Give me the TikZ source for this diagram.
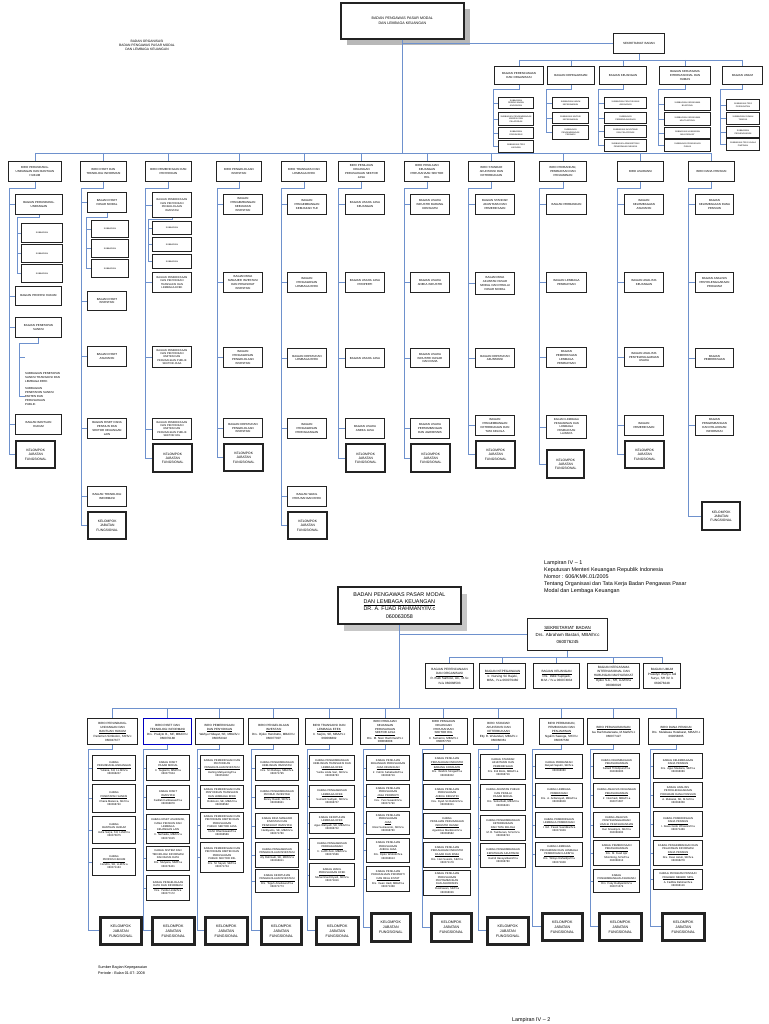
\documentclass[tikz,border=0pt]{standalone}
\usepackage{fontspec}
\setmainfont{Liberation Sans}
\definecolor{linec}{RGB}{110,145,205}
\definecolor{boxc}{RGB}{35,35,35}
\tikzset{
 conn/.style={draw=linec,line width=0.75pt},
 bx/.style={draw=boxc,line width=1pt,fill=white,align=center,inner xsep=0pt,inner ysep=0pt,anchor=north west,font=\fontsize{2.9}{3.7}\selectfont},
 sb/.style={font=\fontsize{2.1}{2.7}\selectfont},
 kel/.style={bx,line width=2.4pt,font=\fontsize{3.3}{4.3}\selectfont},
 lkel/.style={bx,line width=2.6pt,font=\fontsize{3.6}{5.0}\selectfont},
 lb/.style={bx,line width=1.2pt,font=\fontsize{2.7}{3.4}\selectfont},
 lbb/.style={bx,line width=1.3pt,font=\fontsize{3.0}{3.9}\selectfont},
 txt/.style={anchor=north west,align=left,inner sep=0pt,font=\fontsize{3.3}{4.2}\selectfont},
}
\newcommand\B[7][]{\node[bx,#1,text width=#5pt,minimum height=#6pt] (#2) at (#3,#4) {#7};}
\newcommand\KJF{KELOMPOK\\JABATAN\\FUNGSIONAL}
\newcommand\kid[2]{\draw[conn] (#1 |- #2.west) -- (#2.west);}
\begin{document}
\begin{tikzpicture}[x=1pt,y=-1pt]
\useasboundingbox[fill=white] (0,0) rectangle (768,1024);
% ================= UPPER CHART =================
\node[fill=black!28,anchor=north west,minimum width=123pt,minimum height=36pt,inner sep=0pt] (topsh) at (347,9) {};
\B[line width=1.6pt,font=\fontsize{3.6}{4.6}\selectfont]{top}{340}{2}{123}{36}{BADAN PENGAWAS PASAR MODAL\\DAN LEMBAGA KEUANGAN}
\node[txt,align=center,anchor=north] (title) at (147,40) {BADAN ORGANISASI\\BADAN PENGAWAS PASAR MODAL\\DAN LEMBAGA KEUANGAN};
\B[font=\fontsize{3.0}{3.8}\selectfont]{sek}{613}{33}{51}{20}{SEKRETARIAT BADAN}
\draw[conn] (top.south |- sek.west) -- (sek.west);
\coordinate (sbus) at (0,60);
\B{sc1}{494}{66}{49}{18}{BAGIAN PERENCANAAN\\DAN ORGANISASI}
\B{sc2}{547}{66}{47}{18}{BAGIAN KEPEGAWAIAN}
\B{sc3}{599}{66}{47}{18}{BAGIAN KEUANGAN}
\B{sc4}{659}{66}{51}{18}{BAGIAN KERJASAMA\\INTERNASIONAL DAN\\HUMAS}
\B{sc5}{722}{66}{40}{18}{BAGIAN UMUM}
\draw[conn] (sek.south) -- (sek.south |- sbus);
\draw[conn] (sc1.north |- sbus) -- (sc5.north |- sbus);
\foreach \n in {sc1,sc2,sc3,sc4,sc5} {\draw[conn] (\n.north |- sbus) -- (\n.north);}
% subbagian of secretariat
\B[sb]{sc1a}{498}{97}{35}{11}{SUBBAGIAN\\PERENCANAAN\\ANGGARAN}
\B[sb]{sc1b}{498}{112}{35}{13}{SUBBAGIAN PENGEMBANGAN\\KINERJA DAN\\PELAPORAN}
\B[sb]{sc1c}{498}{127}{35}{11}{SUBBAGIAN\\ORGANISASI}
\B[sb]{sc1d}{498}{140}{35}{12}{SUBBAGIAN TATA\\LAKSANA}
\B[sb]{sc2a}{552}{97}{36}{11}{SUBBAGIAN UMUM\\KEPEGAWAIAN}
\B[sb]{sc2b}{552}{112}{36}{11}{SUBBAGIAN MUTASI\\KEPEGAWAIAN}
\B[sb]{sc2c}{552}{125}{36}{14}{SUBBAGIAN\\PENGEMBANGAN\\PEGAWAI}
\B[sb]{sc3a}{604}{97}{42}{11}{SUBBAGIAN PENYUSUNAN\\ANGGARAN}
\B[sb]{sc3b}{604}{112}{42}{11}{SUBBAGIAN\\PERBENDAHARAAN}
\B[sb]{sc3c}{604}{125}{42}{12}{SUBBAGIAN AKUNTANSI\\DAN PELAPORAN}
\B[sb]{sc3d}{604}{139}{42}{12}{SUBBAGIAN ADMINISTRASI\\PENERIMAAN NEGARA}
\B[sb]{sc4a}{664}{97}{46}{13}{SUBBAGIAN KERJASAMA\\BILATERAL}
\B[sb]{sc4b}{664}{112}{46}{13}{SUBBAGIAN KERJASAMA\\MULTILATERAL}
\B[sb]{sc4c}{664}{127}{46}{11}{SUBBAGIAN HUBUNGAN\\MASYARAKAT}
\B[sb]{sc4d}{664}{139}{46}{12}{SUBBAGIAN PENGADUAN\\PUBLIK}
\B[sb]{sc5a}{726}{99}{33}{11}{SUBBAGIAN TATA\\PERSURATAN}
\B[sb]{sc5b}{726}{112}{33}{12}{SUBBAGIAN RUMAH\\TANGGA}
\B[sb]{sc5c}{726}{126}{33}{11}{SUBBAGIAN\\PERLENGKAPAN}
\B[sb]{sc5d}{726}{138}{33}{12}{SUBBAGIAN TATA USAHA\\PIMPINAN}
\coordinate (ssc1) at (493,89); \coordinate (ssc2) at (546,89); \coordinate (ssc3) at (598,89);
\coordinate (ssc4) at (658,89); \coordinate (ssc5) at (720,89);
\draw[conn] (sc1.south) |- (ssc1) -- (ssc1 |- sc1d.west);
\draw[conn] (sc2.south) |- (ssc2) -- (ssc2 |- sc2c.west);
\draw[conn] (sc3.south) |- (ssc3) -- (ssc3 |- sc3d.west);
\draw[conn] (sc4.south) |- (ssc4) -- (ssc4 |- sc4d.west);
\draw[conn] (sc5.south) |- (ssc5) -- (ssc5 |- sc5d.west);
\foreach \n in {sc1a,sc1b,sc1c,sc1d} {\kid{ssc1}{\n}}
\foreach \n in {sc2a,sc2b,sc2c} {\kid{ssc2}{\n}}
\foreach \n in {sc3a,sc3b,sc3c,sc3d} {\kid{ssc3}{\n}}
\foreach \n in {sc4a,sc4b,sc4c,sc4d} {\kid{ssc4}{\n}}
\foreach \n in {sc5a,sc5b,sc5c,sc5d} {\kid{ssc5}{\n}}
% biro row
\coordinate (ubus) at (0,153);
\B{ub1}{8}{161}{53}{20}{BIRO PERUNDANG-\\UNDANGAN DAN BANTUAN\\HUKUM}
\B{ub2}{80}{161}{46}{20}{BIRO RISET DAN\\TEKNOLOGI INFORMASI}
\B{ub3}{145}{161}{46}{20}{BIRO PEMERIKSAAN DAN\\PENYIDIKAN}
\B{ub4}{216}{161}{45}{20}{BIRO PENGELOLAAN\\INVESTASI}
\B{ub5}{281}{161}{45}{20}{BIRO TRANSAKSI DAN\\LEMBAGA EFEK}
\B{ub6}{338}{161}{46}{20}{BIRO PENILAIAN\\KEUANGAN\\PERUSAHAAN SEKTOR\\JASA}
\B{ub7}{404}{161}{45}{20}{BIRO PENILAIAN\\KEUANGAN\\PERUSAHAAN SEKTOR\\RIIL}
\B{ub8}{468}{161}{46}{20}{BIRO STANDAR\\AKUNTANSI DAN\\KETERBUKAAN}
\B{ub9}{539}{161}{47}{20}{BIRO PERBANKAN,\\PEMBIAYAAN DAN\\PENJAMINAN}
\B{ub10}{617}{161}{46}{20}{BIRO ASURANSI}
\B{ub11}{688}{161}{46}{20}{BIRO DANA PENSIUN}
\draw[conn] (top.south) -- (top.south |- ubus);
\draw[conn] (ub1.north |- ubus) -- (ub11.north |- ubus);
\foreach \n in {ub1,ub2,ub3,ub4,ub5,ub6,ub7,ub8,ub9,ub10,ub11} {\draw[conn] (\n.north |- ubus) -- (\n.north);}
% Biro 1
\B{u1a}{15}{194}{47}{20}{BAGIAN PERUNDANG-\\UNDANGAN}
\B[sb]{u1a1}{21}{223}{41}{19}{SUBBAGIAN}
\B[sb]{u1a2}{21}{244}{41}{18}{SUBBAGIAN}
\B[sb]{u1a3}{21}{264}{41}{18}{SUBBAGIAN}
\B{u1b}{15}{286}{46}{19}{BAGIAN PROFESI HUKUM}
\B{u1c}{15}{317}{46}{20}{BAGIAN PENETAPAN\\SANKSI}
\node[txt,font=\fontsize{2.9}{4.1}\selectfont] (u1c1) at (25,372) {SUBBAGIAN PENETAPAN\\SANKSI TRANSAKSI DAN\\LEMBAGA EFEK};
\node[txt,font=\fontsize{2.9}{4.1}\selectfont] (u1c2) at (25,387) {SUBBAGIAN\\PENETAPAN SANKSI\\EMITEN DAN\\PERUSAHAAN\\PUBLIK};
\coordinate (u1x) at (25,357);
\B{u1d}{15}{414}{46}{20}{BAGIAN BANTUAN\\HUKUM}
\B[kel]{u1k}{15}{440}{39}{27}{\KJF}
\coordinate (s1) at (9,188);
\draw[conn] (ub1.south) |- (s1) -- (s1 |- u1k.west);
\foreach \n in {u1a,u1b,u1c,u1d,u1k} {\kid{s1}{\n}}
\coordinate (s1a) at (17,217);
\draw[conn] (u1a.south) |- (s1a) -- (s1a |- u1a3.west);
\foreach \n in {u1a1,u1a2,u1a3} {\kid{s1a}{\n}}
\coordinate (s1c) at (19,343);
\draw[conn] (u1c.south) |- (s1c) -- (s1c |- u1c2.west);
\draw[conn] (s1c |- u1x) -- (u1x);
\kid{s1c}{u1c2}
% Biro 2
\B{u2a}{87}{192}{39}{20}{BAGIAN RISET\\PASAR MODAL}
\B[sb]{u2a1}{91}{220}{37}{17}{SUBBAGIAN}
\B[sb]{u2a2}{91}{239}{37}{18}{SUBBAGIAN}
\B[sb]{u2a3}{91}{259}{37}{18}{SUBBAGIAN}
\B{u2b}{87}{291}{39}{19}{BAGIAN RISET\\INVESTASI}
\B{u2c}{87}{346}{39}{20}{BAGIAN RISET\\ASURANSI}
\B{u2d}{87}{418}{39}{20}{BAGIAN RISET DANA\\PENSIUN DAN\\SEKTOR KEUANGAN\\LAIN}
\B{u2e}{87}{486}{39}{20}{BAGIAN TEKNOLOGI\\INFORMASI}
\B[kel]{u2k}{87}{511}{38}{27}{\KJF}
\coordinate (s2) at (81,188);
\draw[conn] (ub2.south) |- (s2) -- (s2 |- u2k.west);
\foreach \n in {u2a,u2b,u2c,u2d,u2e,u2k} {\kid{s2}{\n}}
\coordinate (s2a) at (86,217);
\draw[conn] (u2a.south) |- (s2a) -- (s2a |- u2a3.west);
\foreach \n in {u2a1,u2a2,u2a3} {\kid{s2a}{\n}}
% Biro 3
\B[font=\fontsize{2.7}{3.4}\selectfont]{u3a}{152}{192}{39}{25}{BAGIAN PEMERIKSAAN\\DAN PENYIDIKAN\\PENGELOLAAN\\INVESTASI}
\B[sb]{u3a1}{152}{221}{39}{13}{SUBBAGIAN}
\B[sb]{u3a2}{152}{237}{39}{14}{SUBBAGIAN}
\B[sb]{u3a3}{152}{254}{39}{14}{SUBBAGIAN}
\B[font=\fontsize{2.7}{3.4}\selectfont]{u3b}{152}{272}{39}{20}{BAGIAN PEMERIKSAAN\\DAN PENYIDIKAN\\TRANSAKSI DAN\\LEMBAGA EFEK}
\B[font=\fontsize{2.7}{3.4}\selectfont]{u3c}{152}{346}{39}{21}{BAGIAN PEMERIKSAAN\\DAN PENYIDIKAN\\EMITEN DAN\\PERUSAHAAN PUBLIK\\SEKTOR JASA}
\B[font=\fontsize{2.7}{3.4}\selectfont]{u3d}{152}{418}{39}{21}{BAGIAN PEMERIKSAAN\\DAN PENYIDIKAN\\EMITEN DAN\\PERUSAHAAN PUBLIK\\SEKTOR RIIL}
\B[kel]{u3k}{152}{443}{39}{28}{\KJF}
\coordinate (s3) at (145,188);
\draw[conn] (ub3.south) |- (s3) -- (s3 |- u3k.west);
\foreach \n in {u3a,u3b,u3c,u3d,u3k} {\kid{s3}{\n}}
\coordinate (s3a) at (148,219);
\draw[conn] (u3a.south) |- (s3a) -- (s3a |- u3a3.west);
\foreach \n in {u3a1,u3a2,u3a3} {\kid{s3a}{\n}}
% Biro 4
\B{u4a}{223}{194}{39}{20}{BAGIAN\\PENGEMBANGAN\\KEBIJAKAN\\INVESTASI}
\B{u4b}{223}{272}{39}{20}{BAGIAN BINA\\MANAJER INVESTASI\\DAN PENASIHAT\\INVESTASI}
\B{u4c}{223}{347}{39}{20}{BAGIAN\\PENGAWASAN\\PENGELOLAAN\\INVESTASI}
\B{u4d}{223}{418}{39}{19}{BAGIAN KEPATUHAN\\PENGELOLAAN\\INVESTASI}
\B[kel]{u4k}{223}{443}{39}{27}{\KJF}
\coordinate (s4) at (217,188);
\draw[conn] (ub4.south) |- (s4) -- (s4 |- u4k.west);
\foreach \n in {u4a,u4b,u4c,u4d,u4k} {\kid{s4}{\n}}
% Biro 5
\B{u5a}{287}{194}{39}{20}{BAGIAN\\PENGEMBANGAN\\KEBIJAKAN TLE}
\B{u5b}{287}{272}{39}{20}{BAGIAN\\PENGAWASAN\\LEMBAGA EFEK}
\B{u5c}{287}{348}{39}{19}{BAGIAN KEPATUHAN\\LEMBAGA EFEK}
\B{u5d}{287}{418}{39}{20}{BAGIAN\\PENGAWASAN\\PERDAGANGAN}
\B{u5e}{287}{486}{39}{20}{BAGIAN WAKIL\\PERUSAHAAN EFEK}
\B[kel]{u5k}{287}{511}{39}{27}{\KJF}
\coordinate (s5) at (281,188);
\draw[conn] (ub5.south) |- (s5) -- (s5 |- u5k.west);
\foreach \n in {u5a,u5b,u5c,u5d,u5e,u5k} {\kid{s5}{\n}}
% Biro 6
\B{u6a}{345}{194}{39}{20}{BAGIAN USAHA JASA\\KEUANGAN}
\B{u6b}{345}{272}{39}{20}{BAGIAN USAHA JASA\\PROPERTI}
\B{u6c}{345}{348}{39}{19}{BAGIAN USAHA JASA}
\B{u6d}{345}{418}{39}{20}{BAGIAN USAHA\\ANEKA JASA}
\B[kel]{u6k}{345}{443}{39}{28}{\KJF}
\coordinate (s6) at (338,188);
\draw[conn] (ub6.south) |- (s6) -- (s6 |- u6k.west);
\foreach \n in {u6a,u6b,u6c,u6d,u6k} {\kid{s6}{\n}}
% Biro 7
\B{u7a}{410}{194}{39}{20}{BAGIAN USAHA\\INDUSTRI BARANG\\KONSUMSI}
\B{u7b}{410}{272}{39}{20}{BAGIAN USAHA\\ANEKA INDUSTRI}
\B{u7c}{410}{348}{39}{19}{BAGIAN USAHA\\INDUSTRI DASAR\\DAN KIMIA}
\B{u7d}{410}{418}{39}{20}{BAGIAN USAHA\\PERTAMBANGAN\\DAN AGRIBISNIS}
\B[kel]{u7k}{410}{443}{39}{28}{\KJF}
\coordinate (s7) at (404,188);
\draw[conn] (ub7.south) |- (s7) -- (s7 |- u7k.west);
\foreach \n in {u7a,u7b,u7c,u7d,u7k} {\kid{s7}{\n}}
% Biro 8
\B{u8a}{475}{194}{39}{20}{BAGIAN STANDAR\\AKUNTANSI DAN\\PEMERIKSAAN}
\B{u8b}{475}{272}{39}{22}{BAGIAN BINA\\AKUNTAN PASAR\\MODAL DAN PENILAI\\PASAR MODAL}
\B{u8c}{475}{348}{39}{19}{BAGIAN KEPATUHAN\\AKUNTANSI}
\B{u8d}{475}{415}{39}{20}{BAGIAN\\PENGEMBANGAN\\KETERBUKAAN DAN\\TATA KELOLA}
\B[kel]{u8k}{475}{440}{39}{27}{\KJF}
\coordinate (s8) at (468,188);
\draw[conn] (ub8.south) |- (s8) -- (s8 |- u8k.west);
\foreach \n in {u8a,u8b,u8c,u8d,u8k} {\kid{s8}{\n}}
% Biro 9
\B{u9a}{546}{194}{40}{20}{BAGIAN PERBANKAN}
\B{u9b}{546}{272}{40}{20}{BAGIAN LEMBAGA\\PEMBIAYAAN}
\B{u9c}{546}{347}{40}{20}{BAGIAN\\PEMERIKSAAN\\LEMBAGA\\PEMBIAYAAN}
\B[font=\fontsize{2.8}{3.5}\selectfont]{u9d}{546}{415}{40}{23}{BAGIAN LEMBAGA\\PENJAMINAN DAN\\LEMBAGA\\PEMBIAYAAN\\LAINNYA}
\B[kel]{u9k}{546}{449}{37}{28}{\KJF}
\coordinate (s9) at (539,188);
\draw[conn] (ub9.south) |- (s9) -- (s9 |- u9k.west);
\foreach \n in {u9a,u9b,u9c,u9d,u9k} {\kid{s9}{\n}}
% Biro 10
\B{u10a}{624}{194}{39}{20}{BAGIAN\\KELEMBAGAAN\\ASURANSI}
\B{u10b}{624}{272}{39}{20}{BAGIAN ANALISIS\\KEUANGAN}
\B{u10c}{624}{347}{39}{19}{BAGIAN ANALISIS\\PENYELENGGARAAN\\USAHA}
\B{u10d}{624}{415}{39}{20}{BAGIAN\\PEMERIKSAAN}
\B[kel]{u10k}{624}{440}{39}{27}{\KJF}
\coordinate (s10) at (617,188);
\draw[conn] (ub10.south) |- (s10) -- (s10 |- u10k.west);
\foreach \n in {u10a,u10b,u10c,u10d,u10k} {\kid{s10}{\n}}
% Biro 11
\B{u11a}{695}{194}{38}{20}{BAGIAN\\KELEMBAGAAN DANA\\PENSIUN}
\B{u11b}{695}{272}{38}{20}{BAGIAN ANALISIS\\PENYELENGGARAAN\\PROGRAM}
\B{u11c}{695}{348}{38}{19}{BAGIAN\\PEMERIKSAAN}
\B{u11d}{695}{415}{38}{20}{BAGIAN\\PENGEMBANGAN\\DAN PELAYANAN\\INFORMASI}
\B[kel]{u11k}{701}{501}{38}{28}{\KJF}
\coordinate (s11) at (688,188);
\draw[conn] (ub11.south) |- (s11) -- (s11 |- u11k.west);
\foreach \n in {u11a,u11b,u11c,u11d,u11k} {\kid{s11}{\n}}
% ================= LOWER CHART =================
\node[txt,font=\fontsize{5.4}{7.2}\selectfont] (lamp) at (544,560) {Lampiran IV -- 1\\Keputusan Menteri Keuangan Republik Indonesia\\Nomor : 606/KMK.01/2005\\Tentang Organisasi dan Tata Kerja Badan Pengawas Pasar\\Modal dan Lembaga Keuangan};
\node[fill=black!22,anchor=north west,minimum width=123pt,minimum height=37pt,inner sep=0pt] (ltopsh) at (344,594) {};
\B[line width=1.8pt,font=\fontsize{5.4}{7.2}\selectfont]{ltop}{337}{586}{123}{37}{BADAN PENGAWAS PASAR MODAL\\\underline{DAN LEMBAGA KEUANGAN}\\DR. A. FUAD RAHMANY/IV.c\\060063058}
\B[line width=1.3pt,font=\fontsize{4.4}{7.0}\selectfont]{lsek}{527}{618}{80}{32}{\underline{SEKRETARIAT BADAN}\\Drs. Abraham Bastari, MBA/IV.c\\060076245}
\draw[conn] (ltop.south |- lsek.west) -- (lsek.west);
\coordinate (lsbus) at (0,657);
\B[lb,font=\fontsize{3.1}{4.2}\selectfont]{lc1}{425}{663}{48}{25}{BAGIAN PERENCANAAN\\\underline{DAN ORGANISASI}\\R. Budi Santoso, Ak., M.Sc\\IV/a 060068593}
\B[lb,font=\fontsize{3.1}{4.2}\selectfont]{lc2}{479}{663}{46}{25}{\underline{BAGIAN KEPEGAWAIAN}\\Ir. Nursing Sri Rajeki,\\MBA., IV.a 060079460}
\B[lb,font=\fontsize{3.1}{4.2}\selectfont]{lc3}{533}{663}{46}{25}{\underline{BAGIAN KEUANGAN}\\Drs. Didik Suprijadi,\\M.M. / IV.a 060074934}
\B[lb,font=\fontsize{3.1}{4.2}\selectfont]{lc4}{587}{663}{52}{25}{BAGIAN KERJASAMA\\INTERNASIONAL DAN\\\underline{HUBUNGAN MASYARAKAT}\\Djoko S.A., SH, LLM/IV.a\\060068026}
\B[lb,font=\fontsize{3.1}{4.2}\selectfont]{lc5}{643}{663}{37}{25}{\underline{BAGIAN UMUM}\\Prasetyo Wahyu Adi\\Suryo, SH /IV. b\\060078248}
\draw[conn] (lsek.south) -- (lsek.south |- lsbus);
\draw[conn] (lc1.north |- lsbus) -- (lc5.north |- lsbus);
\foreach \n in {lc1,lc2,lc3,lc4,lc5} {\draw[conn] (\n.north |- lsbus) -- (\n.north);}
% lower biro row
\coordinate (lbus) at (0,708);
\B[lbb]{lb1}{87}{718}{50}{26}{BIRO PERUNDANG-\\UNDANGAN DAN\\\underline{BANTUAN HUKUM}\\Parlemen Simbolon, SH/IV.c\\060047677}
\B[lbb,draw=blue!75!black]{lb2}{143}{718}{48}{26}{BIRO RISET DAN\\\underline{TEKNOLOGI INFORMASI}\\Drs. Pratiyto B., MF, MBA/IV.c\\060079188}
\B[lbb]{lb3}{195}{718}{48}{26}{BIRO PEMERIKSAAN\\\underline{DAN PENYIDIKAN}\\Wahyu Hidayat, SE, MBA/IV.c\\060053322}
\B[lbb]{lb4}{248}{718}{50}{26}{BIRO PENGELOLAAN\\\underline{INVESTASI}\\Drs. Djoko Hendratto, MBA/IV.c\\060077007}
\B[lbb]{lb5}{305}{718}{47}{26}{BIRO TRANSAKSI DAN\\\underline{LEMBAGA EFEK}\\Ir. Sarjito, SE, MBA/IV.c\\060068802}
\B[lbb,font=\fontsize{2.9}{3.8}\selectfont]{lb6}{360}{718}{49}{26}{BIRO PENILAIAN\\KEUANGAN\\PERUSAHAAN\\\underline{SEKTOR JASA}\\Drs. M. Noor Rachman/IV.c\\060068008}
\B[lbb,font=\fontsize{2.9}{3.8}\selectfont]{lb7}{419}{718}{48}{26}{BIRO PENILAIAN\\KEUANGAN\\PERUSAHAAN\\\underline{SEKTOR RIIL}\\Ir. Sumarno, MBA/IV.c\\060057750}
\B[lbb]{lb8}{473}{718}{50}{26}{BIRO STANDAR\\AKUNTANSI DAN\\\underline{KETERBUKAAN}\\Etty R. Wulandari, MBA/IV.c\\060068361}
\B[lbb]{lb9}{539}{718}{44}{26}{BIRO PERBANKAN,\\PEMBIAYAAN DAN\\\underline{PENJAMINAN}\\Ngalim Sawega, SH/IV.c\\060067560}
\B[lbb]{lb10}{587}{718}{52}{26}{\underline{BIRO PERASURANSIAN}\\Isa Rachmatarwata, M.Math/IV.c\\060077427}
\B[lbb]{lb11}{648}{718}{55}{26}{\underline{BIRO DANA PENSIUN}\\Drs. Mulabasa Hutabarat, MBA/IV.c\\060058665}
\draw[conn] (ltop.south) -- (ltop.south |- lbus);
\draw[conn] (lb1.north |- lbus) -- (lb11.north |- lbus);
\foreach \n in {lb1,lb2,lb3,lb4,lb5,lb6,lb7,lb8,lb9,lb10,lb11} {\draw[conn] (\n.north |- lbus) -- (\n.north);}
% lower columns
% col 1
\B[lb]{l1a}{92}{755}{43}{25}{KABAG\\\underline{PERUNDANG-UNDANGAN}\\Yuliana, SH, LL.M/IV.a\\060068207}
\B[lb]{l1b}{92}{784}{43}{28}{KABAG\\\underline{PENETAPAN SANKSI}\\Chaira Malacca, SE/IV.a\\060068740}
\B[lb]{l1c}{92}{816}{43}{27}{KABAG\\\underline{BANTUAN HUKUM}\\Indra Surya, SH, LLM/IV.a\\060075675}
\B[lb]{l1d}{92}{848}{43}{27}{KABAG\\\underline{PROFESI HUKUM}\\Hendrix, SH, LLM/IV.a\\060071163}
\B[lkel]{l1k}{99}{916}{41}{27}{\KJF}
\coordinate (t1) at (88,749);
\draw[conn] (lb1.south) |- (t1) -- (t1 |- l1k.west);
\foreach \n in {l1a,l1b,l1c,l1d,l1k} {\kid{t1}{\n}}
% col 2
\B[lb]{l2a}{146}{755}{43}{25}{KABAG RISET\\\underline{PASAR MODAL}\\Ir. Sugianto, MM/IV.a\\060077604}
\B[lb]{l2b}{146}{785}{43}{24}{KABAG RISET\\\underline{INVESTASI}\\Fadilah Kartikasasi/IV.a\\060068878}
\B[lb]{l2c}{146}{814}{43}{29}{KABAG RISET ASURANSI,\\DANA PENSIUN DAN\\LEMBAGA\\\underline{KEUANGAN LAIN}\\Ir. Nurhaida, MBA/IV.a\\060071615}
\B[lb]{l2d}{146}{846}{43}{24}{KABAG SISTEM DAN\\TEKNOLOGI INFORMASI\\\underline{DAN BASIS DATA}\\Drs. Mulyana, MM/IV.a\\060076401}
\B[lb]{l2e}{146}{875}{43}{25}{KABAG PENGELOLAAN\\\underline{DATA DAN INFORMASI}\\Dra. Yunita Linda/IV.a\\060077172}
\B[lkel]{l2k}{151}{916}{42}{27}{\KJF}
\coordinate (t2) at (143,749);
\draw[conn] (lb2.south) |- (t2) -- (t2 |- l2k.west);
\foreach \n in {l2a,l2b,l2c,l2d,l2e,l2k} {\kid{t2}{\n}}
% col 3
\B[lb]{l3a}{200}{755}{43}{25}{KABAG PEMERIKSAAN DAN\\PENYIDIKAN\\\underline{PENGELOLAAN INVESTASI}\\Herling Mahyuning/IV.a\\060051802}
\B[lb]{l3b}{200}{785}{43}{23}{KABAG PEMERIKSAAN DAN\\PENYIDIKAN TRANSAKSI\\\underline{DAN LEMBAGA EFEK}\\Robinson, SE, MBA/IV.a\\060068582}
\B[lb]{l3c}{200}{812}{43}{26}{KABAG PEMERIKSAAN DAN\\PENYIDIKAN EMITEN DAN\\PERUSAHAAN\\\underline{PUBLIK SEKTOR JASA}\\I.G.M. Dharmawan/IV.a\\060068589}
\B[lb]{l3d}{200}{842}{43}{30}{KABAG PEMERIKSAAN DAN\\PENYIDIKAN EMITEN DAN\\PERUSAHAAN\\\underline{PUBLIK SEKTOR RIIL}\\Drs. M. Sayuti, SE/IV.a\\060071704}
\B[lkel]{l3k}{204}{916}{42}{27}{\KJF}
\coordinate (t3) at (197,749);
\draw[conn] (lb3.south) |- (t3) -- (t3 |- l3k.west);
\foreach \n in {l3a,l3b,l3c,l3d,l3k} {\kid{t3}{\n}}
% col 4
\B[lb]{l4a}{255}{755}{43}{25}{KABAG PENGEMBANGAN\\\underline{KEBIJAKAN INVESTASI}\\Dra. Sri Rahayu, MBA/IV.a\\060071795}
\B[lb]{l4b}{255}{785}{43}{23}{KABAG PENGEMBANGAN\\\underline{PRODUK INVESTASI}\\Benny Rasidi, SE/IV.a\\060068941}
\B[lb]{l4c}{255}{813}{43}{25}{KABAG BINA MANAJER\\INVESTASI DAN\\\underline{PENASIHAT INVESTASI}\\Hardiyanto, SE, MBA/IV.a\\060071780}
\B[lb]{l4d}{255}{842}{43}{25}{KABAG PENGAWASAN\\\underline{PENGELOLAAN INVESTASI}\\Aly Rahmadi, SE, MPA/IV.a\\060068811}
\B[lb]{l4e}{255}{869}{43}{23}{KABAG KEPATUHAN\\\underline{PENGELOLAAN INVESTASI}\\Drs. Teguh Ariwibowo/IV.a\\060071773}
\B[lkel]{l4k}{260}{916}{40}{27}{\KJF}
\coordinate (t4) at (251,749);
\draw[conn] (lb4.south) |- (t4) -- (t4 |- l4k.west);
\foreach \n in {l4a,l4b,l4c,l4d,l4e,l4k} {\kid{t4}{\n}}
% col 5
\B[lb]{l5a}{309}{755}{45}{25}{KABAG PENGEMBANGAN\\KEBIJAKAN TRANSAKSI DAN\\\underline{LEMBAGA EFEK}\\Yunita Linda Sari, SE/IV.a\\060068783}
\B[lb]{l5b}{309}{785}{45}{22}{KABAG PENGAWASAN\\\underline{LEMBAGA EFEK}\\Sumardi Sudiyah, SE/IV.a\\060068707}
\B[lb]{l5c}{309}{812}{45}{21}{KABAG KEPATUHAN\\\underline{LEMBAGA EFEK}\\Agus Wahyudi, SE, MBA/IV.a\\060068702}
\B[lb]{l5d}{309}{838}{45}{21}{KABAG PENGAWASAN\\\underline{PERDAGANGAN}\\Ir. Luthfi Zein, MBA/IV.a\\060071566}
\B[lb]{l5e}{309}{863}{45}{23}{KABAG WAKIL\\\underline{PERUSAHAAN EFEK}\\Muhammad Riyadi, SE/IV.a\\060071816}
\B[lkel]{l5k}{315}{916}{42}{27}{\KJF}
\coordinate (t5) at (307,749);
\draw[conn] (lb5.south) |- (t5) -- (t5 |- l5k.west);
\foreach \n in {l5a,l5b,l5c,l5d,l5e,l5k} {\kid{t5}{\n}}
% col 6
\B[lb]{l6a}{366}{755}{43}{25}{KABAG PENILAIAN\\KEUANGAN PERUSAHAAN\\\underline{JASA KEUANGAN}\\Ir. Fahmi Sahabudin/IV.a\\060068719}
\B[lb]{l6b}{366}{784}{43}{23}{KABAG PENILAIAN\\PERUSAHAAN\\\underline{JASA PROPERTI}\\Dra. Yuni Susanti/IV.a\\060071790}
\B[lb]{l6c}{366}{811}{43}{23}{KABAG PENILAIAN\\PERUSAHAAN\\\underline{JASA}\\Rizal Sumarwoto, SE/IV.a\\060068780}
\B[lb]{l6d}{366}{838}{43}{24}{KABAG PENILAIAN\\PERUSAHAAN\\\underline{ANEKA JASA}\\Drs. Djoko Widodo/IV.a\\060068613}
\B[lb]{l6e}{366}{866}{43}{25}{KABAG PENILAIAN\\PERUSAHAAN PROPERTI\\\underline{DAN REAL ESTAT}\\Drs. Irwan Hadi, MBA/IV.a\\060071368}
\B[lkel]{l6k}{370}{912}{39}{28}{\KJF}
\coordinate (t6) at (363,749);
\draw[conn] (lb6.south) |- (t6) -- (t6 |- l6k.west);
\foreach \n in {l6a,l6b,l6c,l6d,l6e,l6k} {\kid{t6}{\n}}
% col 7
\B[lb]{l7a}{423}{753}{47}{27}{KABAG PENILAIAN\\\underline{PERUSAHAAN INDUSTRI}\\\underline{BARANG KONSUMSI}\\Drs. Ibrahim Siregar/IV.a\\060068302}
\B[lb]{l7b}{423}{784}{47}{25}{KABAG PENILAIAN\\PERUSAHAAN\\\underline{ANEKA INDUSTRI}\\Dra. Dyah Sri Rahmi/IV.a\\060068311}
\B[lb]{l7c}{423}{813}{47}{25}{KABAG\\PENILAIAN PERUSAHAAN\\\underline{INDUSTRI DASAR}\\Agustinus Mardiono/IV.a\\060068582}
\B[lb]{l7d}{423}{842}{47}{25}{KABAG PENILAIAN\\PERUSAHAAN INDUSTRI\\\underline{DASAR DAN KIMIA}\\Drs. Heri Soesilo, SE/IV.a\\060071178}
\B[lb]{l7e}{423}{870}{47}{25}{KABAG PENILAIAN\\PERUSAHAAN\\PERTAMBANGAN\\\underline{DAN AGRIBISNIS}\\Rusmawan, SE/IV.a\\060068026}
\B[lkel]{l7k}{430}{912}{40}{28}{\KJF}
\coordinate (t7) at (422,749);
\draw[conn] (lb7.south) |- (t7) -- (t7 |- l7k.west);
\foreach \n in {l7a,l7b,l7c,l7d,l7e,l7k} {\kid{t7}{\n}}
% col 8
\B[lb]{l8a}{480}{754}{45}{25}{KABAG STANDAR\\AKUNTANSI DAN\\\underline{PEMERIKSAAN}\\Drs. Edi Broto, MBA/IV.a\\060068716}
\B[lb]{l8b}{480}{784}{45}{26}{KABAG AKUNTAN PUBLIK\\DAN PENILAI\\\underline{PASAR MODAL}\\Drs. Setia Budi, MBA/IV.a\\060068421}
\B[lb]{l8c}{480}{815}{45}{25}{KABAG PENGEMBANGAN\\KETERBUKAAN\\\underline{DAN TATA KELOLA}\\M. R. Tambunan, M.Sc/IV.a\\060068743}
\B[lb]{l8d}{480}{843}{45}{24}{KABAG PENGEMBANGAN\\\underline{KEPATUHAN AKUNTANSI}\\Hamdi Hassyarbaini/IV.a\\060068780}
\B[lkel]{l8k}{486}{916}{41}{27}{\KJF}
\coordinate (t8) at (478,749);
\draw[conn] (lb8.south) |- (t8) -- (t8 |- l8k.west);
\foreach \n in {l8a,l8b,l8c,l8d,l8k} {\kid{t8}{\n}}
% col 9
\B[lb]{l9a}{535}{754}{47}{24}{KABAG PERBANKAN\\\underline{Dwiyati Saputri, SE/IV.a}\\060068080}
\B[lb]{l9b}{535}{783}{47}{24}{KABAG LEMBAGA\\\underline{PEMBIAYAAN}\\Drs. A. Ardiansyah, MBA/IV.a\\060068608}
\B[lb]{l9c}{535}{812}{47}{25}{KABAG PEMERIKSAAN\\\underline{LEMBAGA PEMBIAYAAN}\\I. Gd. Pasek Suardika/IV.a\\060071609}
\B[lb]{l9d}{535}{842}{47}{24}{KABAG LEMBAGA\\PENJAMINAN DAN LEMBAGA\\\underline{PEMBIAYAAN LAINNYA}\\Drs. Wiluyo Rahardjo/IV.a\\060071608}
\B[lkel]{l9k}{541}{912}{40}{27}{\KJF}
\coordinate (t9) at (532,749);
\draw[conn] (lb9.south) |- (t9) -- (t9 |- l9k.west);
\foreach \n in {l9a,l9b,l9c,l9d,l9k} {\kid{t9}{\n}}
% col 10
\B[lb]{l10a}{593}{753}{46}{25}{KABAG KELEMBAGAAN\\\underline{PERASURANSIAN}\\Setiadi Tirtodipuro/IV.a\\060068285}
\B[lb]{l10b}{593}{783}{46}{24}{KABAG ANALISIS KEUANGAN\\\underline{PERASURANSIAN}\\Ir. Noorhadi, MBA/IV.a\\060071587}
\B[lb]{l10c}{593}{812}{46}{25}{KABAG ANALISIS\\PENYELENGGARAAN\\\underline{USAHA PERASURANSIAN}\\Dwi Sriwahjuni, SE/IV.a\\060068283}
\B[lb]{l10d}{593}{840}{46}{25}{KABAG PEMERIKSAAN\\\underline{PERASURANSIAN}\\Drs. M. Fuad Ajiz\\Sihombing, M.Si/IV.a\\060068313}
\B[lb]{l10e}{593}{869}{46}{23}{KABAG\\\underline{PENGEMBANGAN ASURANSI}\\Drs. Fuky Budiyanto/IV.a\\060071579}
\B[lkel]{l10k}{598}{912}{42}{27}{\KJF}
\coordinate (t10) at (590,749);
\draw[conn] (lb10.south) |- (t10) -- (t10 |- l10k.west);
\foreach \n in {l10a,l10b,l10c,l10d,l10e,l10k} {\kid{t10}{\n}}
% col 11
\B[lb]{l11a}{653}{753}{49}{25}{KABAG KELEMBAGAAN\\\underline{DANA PENSIUN}\\Drs. Agus Maulana, SE/IV.a\\060068089}
\B[lb]{l11b}{653}{782}{49}{25}{KABAG ANALISIS\\PENYELENGGARAAN\\\underline{PROGRAM DANA PENSIUN}\\A. Mubarak, SE, M.Si/IV.a\\060068358}
\B[lb]{l11c}{653}{811}{49}{25}{KABAG PEMERIKSAAN\\\underline{DANA PENSIUN}\\I. Dewa Gede Wirawan/IV.a\\060071469}
\B[lb]{l11d}{653}{840}{49}{25}{KABAG PENGEMBANGAN DAN\\PELAYANAN INFORMASI\\\underline{DANA PENSIUN}\\Dra. Dewi Astuti, SE/IV.a\\060068278}
\B[lb]{l11e}{653}{869}{49}{20}{KABAG PROGRAM PENSIUN\\\underline{PEGAWAI NEGERI SIPIL}\\A. Fadhila Rahman/IV.a\\060068116}
\B[lkel]{l11k}{661}{912}{42}{27}{\KJF}
\coordinate (t11) at (650,749);
\draw[conn] (lb11.south) |- (t11) -- (t11 |- l11k.west);
\foreach \n in {l11a,l11b,l11c,l11d,l11e,l11k} {\kid{t11}{\n}}
% footer
\node[txt,font=\fontsize{3.7}{5.6}\selectfont] (src) at (98,966) {Sumber Bagian Kepegawaian\\Periode : Bulan 01-07- 2008};
\node[txt,font=\fontsize{5.4}{6.5}\selectfont] (lamp2) at (512,1017) {Lampiran IV -- 2};
\end{tikzpicture}
\end{document}
